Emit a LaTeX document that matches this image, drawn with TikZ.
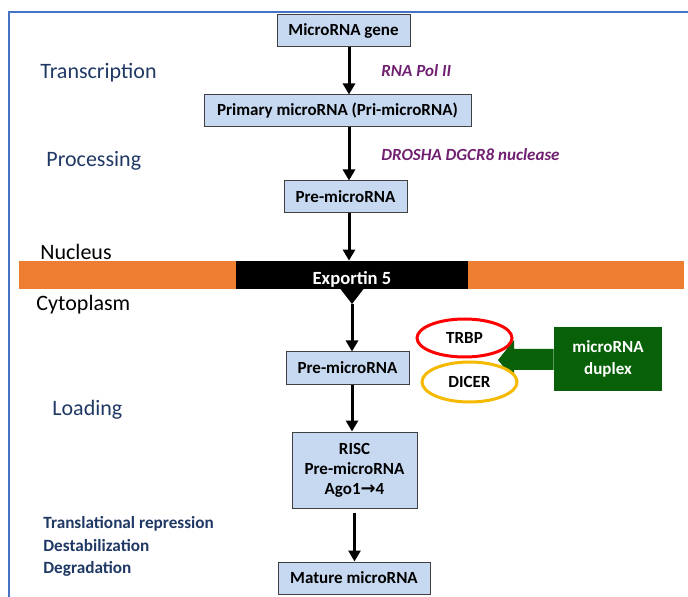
\documentclass[tikz,border=0pt]{standalone}
\usepackage{fontspec}
\setmainfont{Carlito}
\newfontfamily\arrowfont{DejaVu Sans}
\usetikzlibrary{arrows.meta,shapes.geometric}
\definecolor{boxblue}{RGB}{198,217,241}
\definecolor{labelblue}{RGB}{31,56,100}
\definecolor{enzpurple}{RGB}{112,32,112}
\definecolor{bandorange}{RGB}{237,125,49}
\definecolor{duplexgreen}{RGB}{8,96,8}
\definecolor{frameblue}{RGB}{68,114,196}
\definecolor{dicergold}{RGB}{245,185,0}

\begin{document}
\begin{tikzpicture}[x=5pt,y=-5pt,
	stage/.style={draw=black!75, line width=0.5pt, fill=boxblue, minimum height=16pt, inner sep=2pt, align=center, font=\bfseries\fontsize{8.5}{10}\selectfont},
	phase/.style={anchor=west, inner sep=0pt, text=labelblue, font=\fontsize{11}{13}\selectfont},
	enzyme/.style={anchor=west, inner sep=0pt, text=enzpurple, font=\bfseries\itshape\fontsize{8.5}{10}\selectfont},
	cofactor/.style={ellipse, line width=1.5pt, fill=white, minimum width=47.5pt, inner sep=0pt, font=\bfseries\fontsize{8.5}{10}\selectfont},
	flow/.style={line width=1.5pt, -{Triangle[width=6pt,length=5.5pt]}}]
		\useasboundingbox (0,0) rectangle (68.8,59.7);
		\draw[frameblue, line width=0.7pt] (68.8,1.2) -- (0.9,1.2) -- (0.9,59.7);
		% axis of the pathway
		\coordinate (upper) at (34.9,0);
		\coordinate (tip) at (35.2,30.4);
		% nucleus
		\node[stage, minimum width=66.5pt] (gene) at (34.35,3.1) {MicroRNA gene};
		\node[stage, minimum width=133.5pt] (pri) at (33.75,11.1) {Primary microRNA (Pri-microRNA)};
		\node[stage, minimum width=61.5pt] (pre1) at (34.55,19.7) {Pre-microRNA};
		\node[phase] (transcription) at (4.0,7.3) {Transcription};
		\node[phase] (processing) at (4.6,16.1) {Processing};
		\node[enzyme] (polii) at (38.1,7.1) {RNA Pol II};
		\node[enzyme] (drosha) at (38.1,15.5) {DROSHA DGCR8 nuclease};
		\draw[flow] (gene.south -| upper) -- (pri.north -| upper);
		\draw[flow] (pri.south -| upper) -- (pre1.north -| upper);
		% membrane
		\fill[bandorange] (1.9,26.1) rectangle (68.4,28.9);
		\node[fill=black, minimum width=116pt, minimum height=14pt, inner sep=0pt] (exp) at (35.2,27.5) {};
		\node[text=white, font=\bfseries\fontsize{9.3}{11}\selectfont] (exptext) at (35.2,27.9) {Exportin 5};
		\node[anchor=west, inner sep=0pt, font=\fontsize{11}{13}\selectfont] (nucleus) at (4.0,25.2) {Nucleus};
		\node[anchor=west, inner sep=0pt, font=\fontsize{11}{13}\selectfont] (cytoplasm) at (3.6,30.5) {Cytoplasm};
		\draw[flow] (pre1.south -| upper) -- (exp.north -| upper);
		\fill (34.05,28.9) -- (36.35,28.9) -- (tip) -- cycle;
		% cytoplasm
		\node[stage, minimum width=61.5pt] (pre2) at (34.75,36.8) {Pre-microRNA};
		\draw[flow] (tip) -- (pre2.north -| tip);
		\node[fill=duplexgreen, text=white, minimum width=54pt, minimum height=32pt, align=center, font=\bfseries\fontsize{8.5}{11}\selectfont] (duplex) at (60.8,35.9) {microRNA\\duplex};
		\fill[duplexgreen] (duplex.west |- 0,34.9) -- (51.4,34.9) -- (51.4,34.0) -- (49.8,36.0) -- (51.4,38.0) -- (51.4,37.0) -- (duplex.west |- 0,37.0) -- cycle;
		\node[cofactor, draw=red, minimum height=19pt] (trbp) at (46.45,33.8) {TRBP};
		\node[cofactor, draw=dicergold, minimum height=20pt] (dicer) at (46.95,38.2) {DICER};
		\node[phase] (loading) at (5.2,41.0) {Loading};
		\node[stage, minimum width=62.5pt, minimum height=38pt] (risc) at (35.45,47.0) {RISC\\Pre-microRNA\\Ago1{\arrowfont\bfseries\fontsize{9}{10}\selectfont →}4};
		\draw[flow] (pre2.south -| tip) -- (risc.north -| tip);
		% outcome
		\node[stage, minimum width=76pt] (mature) at (35.4,57.8) {Mature microRNA};
		\draw[flow] ([yshift=-2pt]risc.south) -- (risc.south |- mature.north);
		\node[anchor=north west, inner sep=0pt, align=left, text=labelblue, font=\bfseries\fontsize{8.6}{11.3}\selectfont] (effects) at (4.3,51.6) {Translational repression\\Destabilization\\Degradation};
\end{tikzpicture}
\end{document}
